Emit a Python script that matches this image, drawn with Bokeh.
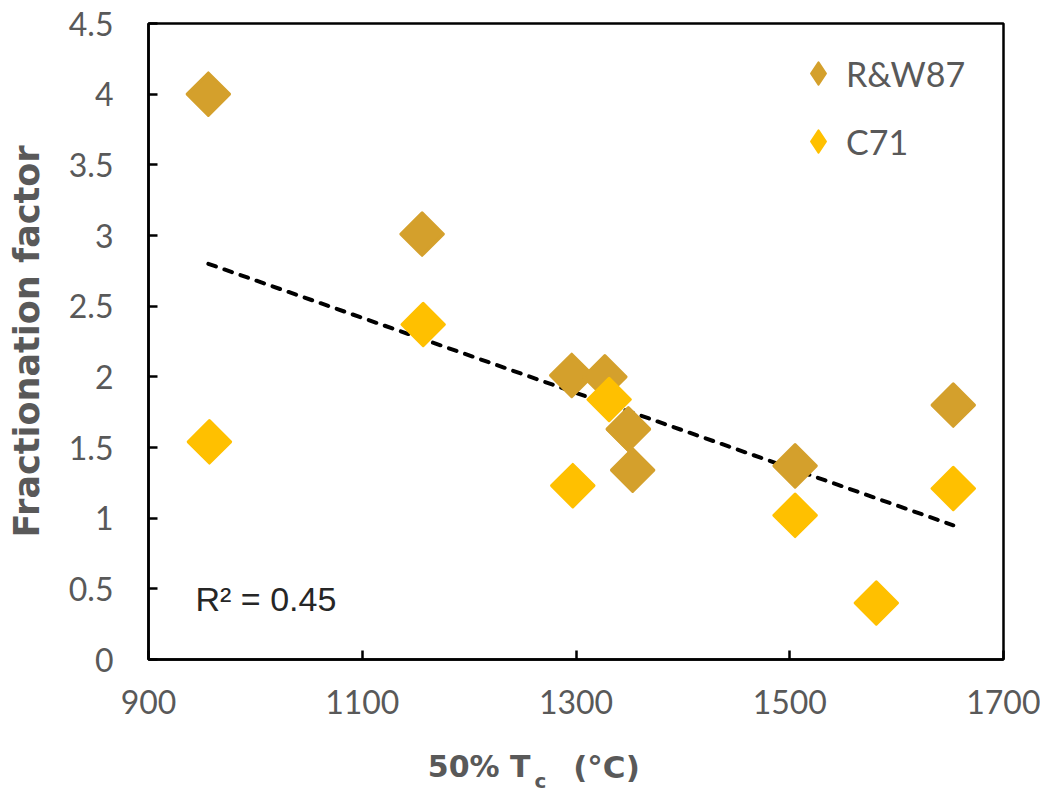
import numpy as np
from bokeh.plotting import figure
from bokeh.layouts import column
from bokeh.models import (ColumnDataSource, Label, Legend, LegendItem, FixedTicker,
                          CDSView, IndexFilter, Range1d)
from bokeh.core.properties import value
from bokeh.embed import file_html
from bokeh.resources import INLINE

# ---- data ----
rw_x = [956, 1156, 1296, 1327, 1349, 1353, 1505, 1653]
rw_y = [4.00, 3.01, 2.01, 2.00, 1.63, 1.34, 1.37, 1.80]
c_x = [957, 1157, 1297, 1331, 1505, 1581, 1653]
c_y = [1.54, 2.37, 1.23, 1.84, 1.02, 0.40, 1.21]
series_names = ["R&W87", "C71"]
x_ticks = [900, 1100, 1300, 1500, 1700]
y_ticks = [0, 0.5, 1, 1.5, 2, 2.5, 3, 3.5, 4, 4.5]
r2_text = "R² = 0.45"
x_title = ["50% T", "c", "(°C)"]
y_title = "Fractionation factor"

GOLD = "#D4A02C"
YELLOW = "#FFC000"
GRAY = "#595959"
W = 1040
BL, BR = 148, 37

p = figure(width=W, height=729, output_backend="svg", toolbar_location=None,
           x_range=Range1d(900, 1700), y_range=Range1d(0, 4.5),
           min_border_left=BL, min_border_right=BR, min_border_top=23,
           min_border_bottom=70)
p.xgrid.visible = False
p.ygrid.visible = False
p.outline_line_color = "black"
p.outline_line_width = 2.5
p.background_fill_color = "white"
p.border_fill_color = "white"

for ax in (p.xaxis[0], p.yaxis[0]):
    ax.axis_line_color = "black"
    ax.axis_line_width = 2.5
    ax.major_tick_line_color = "black"
    ax.major_tick_line_width = 2.5
    ax.major_tick_in = 9
    ax.major_tick_out = 0
    ax.minor_tick_line_color = None
    ax.major_label_text_font = "Lato"
    ax.major_label_text_font_size = "32px"
    ax.major_label_text_color = GRAY

p.xaxis.ticker = FixedTicker(ticks=x_ticks)
p.yaxis.ticker = FixedTicker(ticks=y_ticks)
p.xaxis.major_label_standoff = 30
p.yaxis.major_label_standoff = 35
p.xaxis.major_label_overrides = {t: str(t) for t in x_ticks}
p.yaxis.major_label_overrides = {t: (str(t) if t % 1 else str(int(t))) for t in y_ticks}

p.yaxis.axis_label = y_title
p.yaxis.axis_label_text_font = "DejaVu Sans"
p.yaxis.axis_label_text_font_style = "bold"
p.yaxis.axis_label_text_font_size = "35px"
p.yaxis.axis_label_text_color = GRAY
p.yaxis.axis_label_standoff = 19

# trendline from linear regression on all points
all_x = np.array(rw_x + c_x, dtype=float)
all_y = np.array(rw_y + c_y, dtype=float)
slope, intercept = np.polyfit(all_x, all_y, 1)
tx = np.array([all_x.min(), all_x.max()])

rw_src = ColumnDataSource(dict(x=rw_x, y=rw_y))
c_src = ColumnDataSource(dict(x=c_x, y=c_y))

# legend renderers (diamond glyphs), drawn first and hidden under the main markers
l_rw = p.scatter("x", "y", source=rw_src, marker="diamond", size=20,
                 fill_color=GOLD, line_color=GOLD, line_width=2, line_join="round")
l_c = p.scatter("x", "y", source=c_src, marker="diamond", size=20,
                fill_color=YELLOW, line_color=YELLOW, line_width=2, line_join="round")

p.line(tx, slope * tx + intercept, line_color="black", line_width=4,
       line_dash="8 9", line_cap="round")

mk = dict(marker="square", size=30, angle=np.pi / 4, line_width=3, line_join="round")
p.scatter("x", "y", source=rw_src, fill_color=GOLD, line_color=GOLD, **mk)
p.scatter("x", "y", source=c_src, fill_color=YELLOW, line_color=YELLOW, **mk)
# redraw the R&W87 point that sits on top of a C71 point
p.scatter("x", "y", source=rw_src, view=CDSView(filter=IndexFilter([4])),
          fill_color=GOLD, line_color=GOLD, **mk)

legend = Legend(items=[LegendItem(label=series_names[0], renderers=[l_rw]),
                       LegendItem(label=series_names[1], renderers=[l_c])],
                location=(642, 490), padding=0, margin=0, spacing=12,
                glyph_height=56, glyph_width=56, label_height=56,
                label_standoff=0, border_line_color=None,
                background_fill_alpha=0,
                label_text_font="Lato", label_text_font_size="34px",
                label_text_color=GRAY)
p.add_layout(legend, "center")

p.add_layout(Label(x=944, y=0.43, text=r2_text, text_font="Liberation Sans",
                   text_font_size="34px", text_color="#262626",
                   text_baseline="alphabetic"))

# x-axis title with subscript, drawn in a strip below the chart
p2 = figure(width=W, height=66, output_backend="svg", toolbar_location=None,
            x_range=Range1d(BL, W - BR), y_range=Range1d(0, 66),
            x_axis_type=None, y_axis_type=None,
            min_border_left=BL, min_border_right=BR, min_border_top=0,
            min_border_bottom=0)
p2.xgrid.visible = False
p2.ygrid.visible = False
p2.outline_line_color = None
p2.background_fill_color = "white"
p2.border_fill_color = "white"
tf = dict(text_color=GRAY, text_font=value("DejaVu Sans"), text_font_style="bold",
          text_baseline="alphabetic")
p2.text(x=[530], y=[29], text=[x_title[0]], text_align="right",
        text_font_size="30px", **tf)
p2.text(x=[534], y=[15], text=[x_title[1]], text_align="left",
        text_font_size="20px", **tf)
p2.text(x=[606], y=[29], text=[x_title[2]], text_align="center",
        text_font_size="31px", **tf)

layout = column(p, p2, spacing=0)
open("out.html", "w").write(file_html(layout, INLINE))
